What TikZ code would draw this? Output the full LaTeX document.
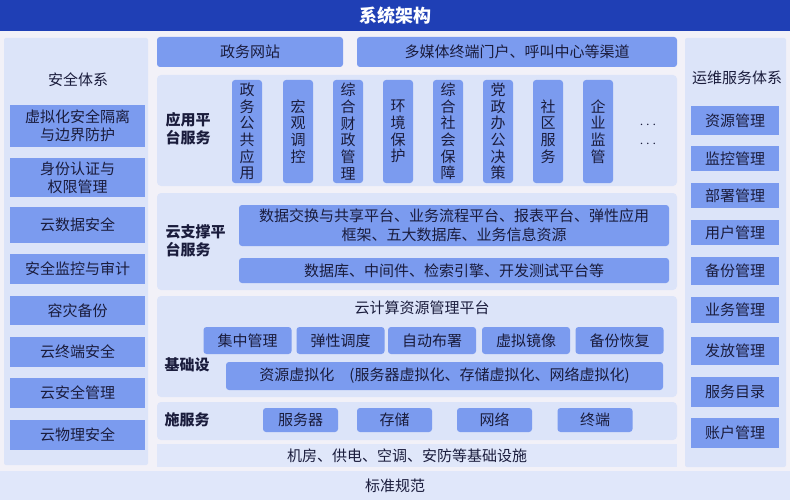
\documentclass[tikz,border=0pt]{standalone}
\usepackage{fontspec}
\setmainfont{Noto Sans CJK SC}
\usetikzlibrary{positioning}

\definecolor{titleblue}{HTML}{1F3FB5}
\definecolor{boxblue}{HTML}{7B9BEF}
\definecolor{panelblue}{HTML}{DCE4F9}
\definecolor{stripblue}{HTML}{E0E7FA}
\definecolor{backwhite}{HTML}{F2F1F8}
\definecolor{inkblue}{HTML}{1A1C3C}

\begin{document}
\begin{tikzpicture}[x=1pt,y=-1pt,
    every node/.style={text=inkblue, font=\fontsize{15}{18}\selectfont},
    box/.style={fill=boxblue, rounded corners=3pt, inner sep=0pt, align=center},
    sidebox/.style={box, rounded corners=0pt},
    panel/.style={fill=panelblue, rounded corners=4pt, inner sep=0pt},
    heading/.style={font=\bfseries\fontsize{15}{18}\selectfont, align=left, anchor=west},
    vbox/.style={box, minimum width=30, minimum height=103,
      font=\fontsize{15}{16.7}\selectfont}]

  \fill[backwhite] (0,0) rectangle (790,500);
  \useasboundingbox (0,0) rectangle (790,500);

  % title and footer
  \node[fill=titleblue, minimum width=790, minimum height=31, inner sep=0pt,
    text=white, font=\bfseries\fontsize{18}{20}\selectfont] (title) at (395,15.5) {系统架构};
  \node[fill=stripblue, minimum width=790, minimum height=29, inner sep=0pt] (norms) at (395,485.5) {标准规范};

  % left: security
  \node[panel, rounded corners=2pt, minimum width=144, minimum height=427] (secpanel) at (76,251.5) {};
  \node (sectitle) at (78,80) {安全体系};
  \foreach \y/\h/\t [count=\i] in {126/42/{虚拟化安全隔离\\与边界防护}, 177.5/39/{身份认证与\\权限管理},
      225/36/云数据安全, 269/30/安全监控与审计, 310.5/29/容灾备份,
      352/30/云终端安全, 393/30/云安全管理, 435/30/云物理安全}
    \node[sidebox, minimum width=135, minimum height=\h] (sec\i) at (77.5,\y) {\t};

  % right: operations
  \node[panel, rounded corners=2pt, minimum width=101, minimum height=429] (opspanel) at (735.5,252.5) {};
  \node (opstitle) at (737,78) {运维服务体系};
  \foreach \y/\h/\t [count=\i] in {120.5/29/资源管理, 158.5/25/监控管理, 195.5/25/部署管理,
      232.5/25/用户管理, 271/28/备份管理, 310/26/业务管理, 351/28/发放管理,
      392/30/服务目录, 433/30/账户管理}
    \node[sidebox, minimum width=88, minimum height=\h] (ops\i) at (735,\y) {\t};

  % portals
  \node[box, minimum width=186, minimum height=30] (portal) at (250,52) {政务网站};
  \node[box, minimum width=320, minimum height=30] (channel) at (517,52) {多媒体终端门户、呼叫中心等渠道};

  % application layer
  \node[panel, minimum width=520, minimum height=111] (apppanel) at (417,130.5) {};
  \node[heading] (applabel) at (162,129) {应用平\\台服务};
  \foreach \x/\t [count=\i] in {247/{政\\务\\公\\共\\应\\用}, 298/{宏\\观\\调\\控},
      348/{综\\合\\财\\政\\管\\理}, 398/{环\\境\\保\\护}, 448/{综\\合\\社\\会\\保\\障},
      498/{党\\政\\办\\公\\决\\策}, 548/{社\\区\\服\\务}, 598/{企\\业\\监\\管}}
    \node[vbox] (app\i) at (\x,131.5) {\t};
  \node (moreA) at (648,125) {$\cdots$};
  \node (moreB) at (648,144) {$\cdots$};

  % cloud support layer
  \node[panel, minimum width=520, minimum height=97] (suppanel) at (417,241.5) {};
  \node[heading] (suplabel) at (162,241) {云支撑平\\台服务};
  \node[box, minimum width=430, minimum height=41, font=\fontsize{15}{19}\selectfont] (supdata) at (454,225.5)
    {数据交换与共享平台、业务流程平台、报表平台、弹性应用\\框架、五大数据库、业务信息资源};
  \node[box, minimum width=430, minimum height=25] (supmid) at (454,270.5) {数据库、中间件、检索引擎、开发测试平台等};

  % infrastructure layer
  \node[panel, minimum width=520, minimum height=101] (basepanel) at (417,346.5) {};
  \node[panel, minimum width=520, minimum height=38] (hwpanel) at (417,421) {};
  \node[fill=stripblue, minimum width=520, minimum height=23, inner sep=0pt] (room) at (417,455.5)
    {\hspace{-20pt}机房、供电、空调、安防等基础设施};
  \node[heading] (baselabelA) at (161,365) {基础设};
  \node[heading] (baselabelB) at (161,420) {施服务};
  \node (cloudmgr) at (422,308) {云计算资源管理平台};
  \foreach \x/\t [count=\i] in {247.5/集中管理, 340.5/弹性调度, 432/自动布署, 526/虚拟镜像, 619.5/备份恢复}
    \node[box, minimum width=88, minimum height=27] (mgr\i) at (\x,340.5) {\t};
  \node[box, minimum width=437, minimum height=28] (virt) at (444.5,376)
    {资源虚拟化\quad (服务器虚拟化、存储虚拟化、网络虚拟化)};
  \foreach \x/\t [count=\i] in {300.5/服务器, 394.5/存储, 494.5/网络, 595/终端}
    \node[box, minimum width=75, minimum height=24] (hw\i) at (\x,420) {\t};

\end{tikzpicture}
\end{document}
